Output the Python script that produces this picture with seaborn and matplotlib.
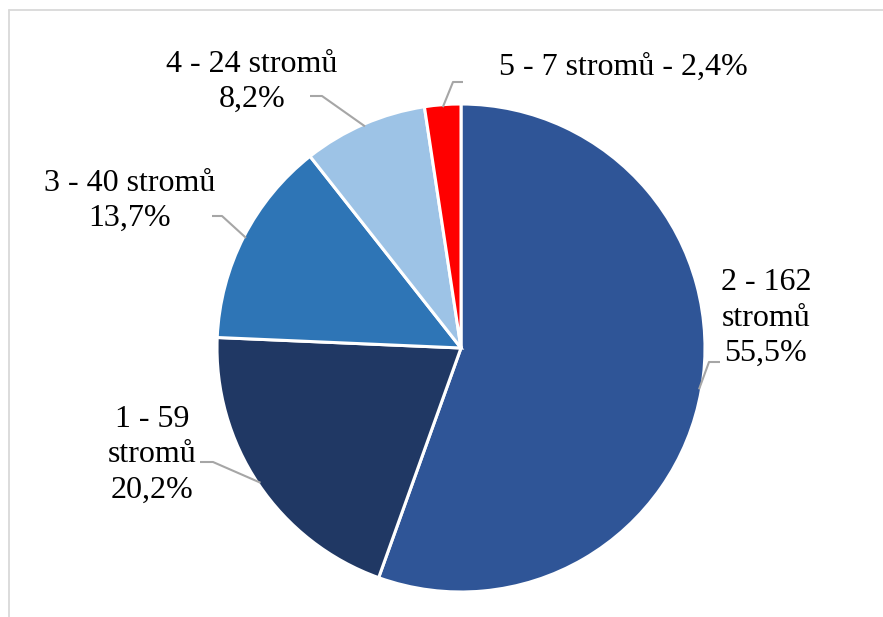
import matplotlib
matplotlib.use("Agg")
import matplotlib.pyplot as plt
from matplotlib.lines import Line2D
import numpy as np
import seaborn as sns

# Tree counts per group, listed clockwise from 12 o'clock
groups = ["2", "1", "3", "4", "5"]
trees = [162, 59, 40, 24, 7]
group_colors = ["#2F5597", "#203864", "#2E75B6", "#9DC3E6", "#FF0000"]

sns.set_theme(style="white")
plt.rcParams["font.family"] = ["Liberation Serif", "DejaVu Serif"]

total = sum(trees)
shares = [f"{100 * t / total:.1f}".replace(".", ",") + "%" for t in trees]
label_texts = [
    f"{groups[0]} - {trees[0]}\nstromů\n{shares[0]}",
    f"{groups[1]} - {trees[1]}\nstromů\n{shares[1]}",
    f"{groups[2]} - {trees[2]} stromů\n{shares[2]}",
    f"{groups[3]} - {trees[3]} stromů\n{shares[3]}",
    f"{groups[4]} - {trees[4]} stromů - {shares[4]}",
]

# Layout in pixels: pie centre / radius, label centres, leader elbows and ends
W, H = 883, 617
CX, CY, R = 461, 348, 244
label_px = [(766, 318), (152, 455), (130, 201), (252, 82), (623, 67)]
elbow_px = [(709, 362), (213, 462), (222, 216), (322, 96), (453, 82)]
end_px = [(720, 362), (200, 462), (212, 216), (310, 96), (463, 82)]


def to_data(p):
    return ((p[0] - CX) / R, (CY - p[1]) / R)


fig = plt.figure(figsize=(W / 100, H / 100), dpi=100)
ax = fig.add_axes([0, 0, 1, 1])
ax.set_aspect("equal")
ax.axis("off")

palette = sns.color_palette(group_colors)
wedges, _ = ax.pie(
    trees,
    colors=palette,
    startangle=90,
    counterclock=False,
    radius=1,
    center=(0, 0),
    wedgeprops=dict(edgecolor="white", linewidth=2.2),
    frame=False,
)
ax.set_xlim(-CX / R, (W - CX) / R)
ax.set_ylim(-(H - CY) / R, CY / R)

leader_color = "#A6A6A6"
for w, txt, lp, ep, np_ in zip(wedges, label_texts, label_px, elbow_px, end_px):
    mid = np.deg2rad((w.theta1 + w.theta2) / 2)
    anchor = (np.cos(mid) * 0.99, np.sin(mid) * 0.99)
    e = to_data(ep)
    n = to_data(np_)
    ax.plot([anchor[0], e[0], n[0]], [anchor[1], e[1], n[1]],
            color=leader_color, lw=1.5, solid_capstyle="butt", zorder=3)
    x, y = to_data(lp)
    ax.text(x, y, txt, ha="center", va="center", multialignment="center",
            fontsize=23, color="black", linespacing=1.3)

# Light chart-area border
border = "#D9D9D9"
fig.add_artist(Line2D([9 / W, 9 / W], [0, 1 - 10 / H], transform=fig.transFigure,
                      color=border, lw=1.3))
fig.add_artist(Line2D([9 / W, 1], [1 - 10 / H, 1 - 10 / H], transform=fig.transFigure,
                      color=border, lw=1.3))

fig.savefig("out.png", dpi=100, facecolor="white")
